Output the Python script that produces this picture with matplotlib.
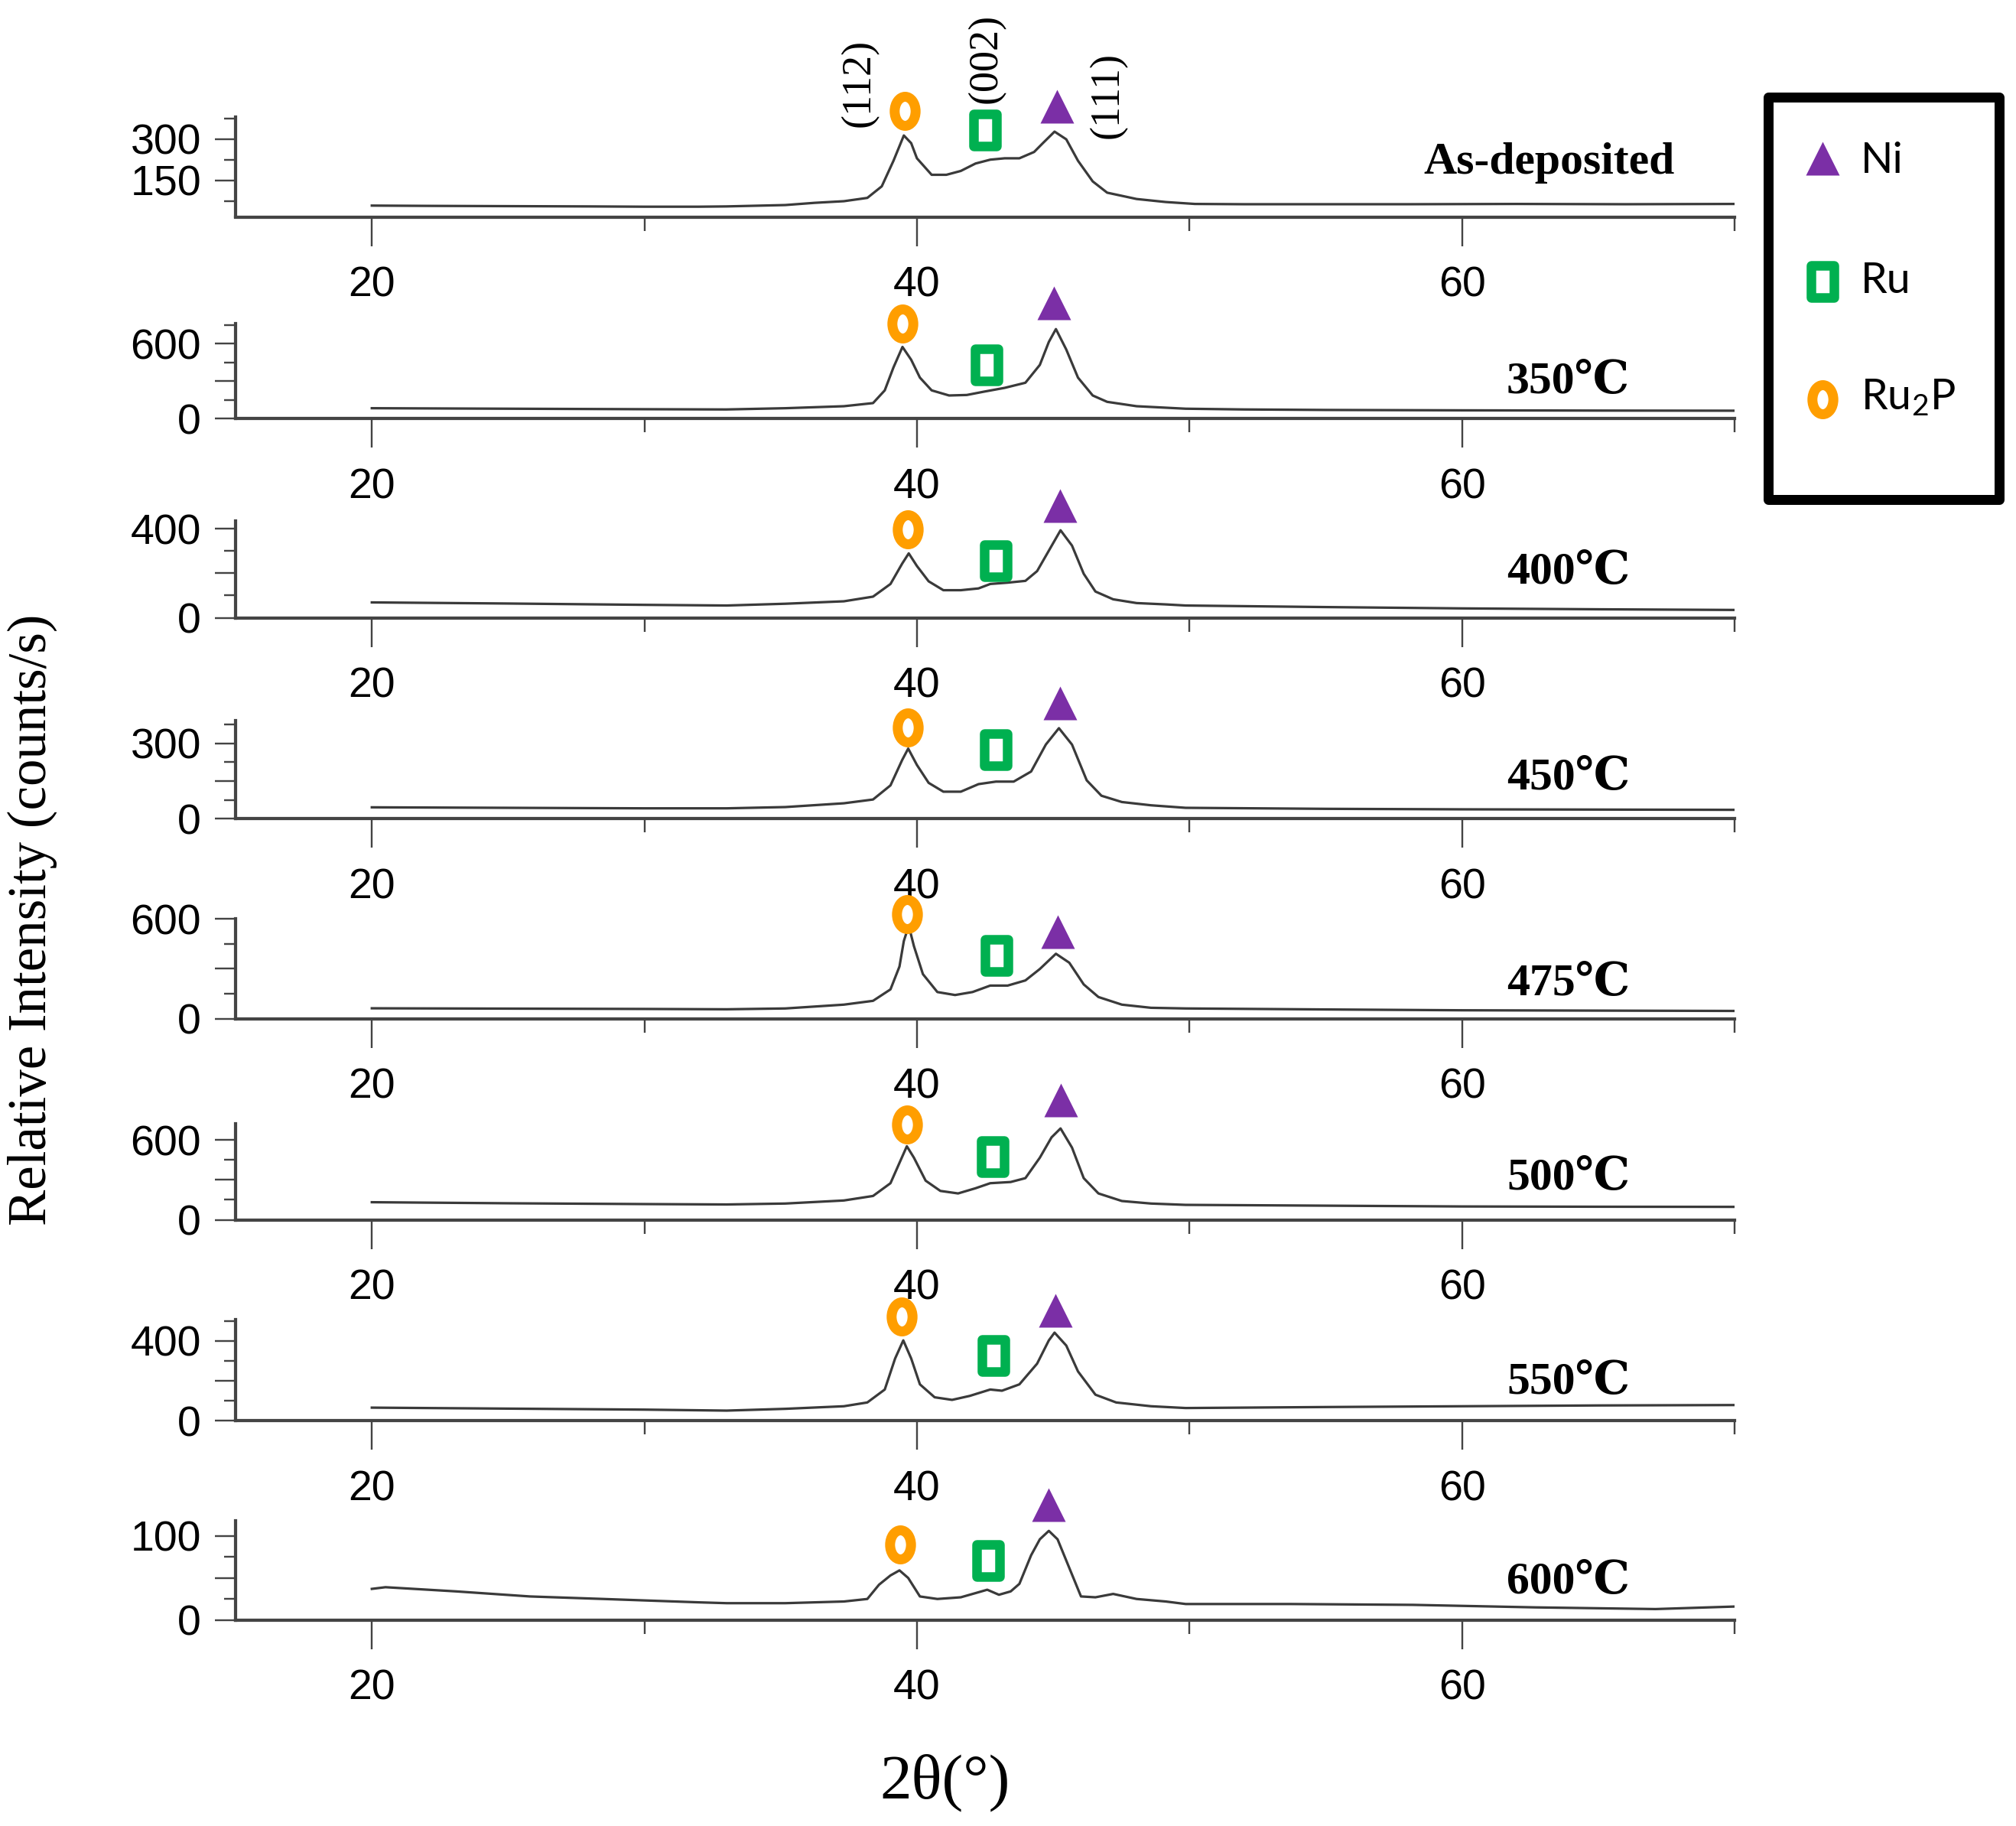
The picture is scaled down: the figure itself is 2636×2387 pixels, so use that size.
"""
XRD patterns of the Ni-Ru-P film, as deposited and after annealing
"""
import matplotlib
matplotlib.use('Agg')
import matplotlib.pyplot as plt
from matplotlib.path import Path
from matplotlib.markers import MarkerStyle
from matplotlib.patches import Rectangle
from matplotlib.ticker import MultipleLocator, FixedLocator, FuncFormatter
from matplotlib.transforms import Affine2D

plt.rcParams['font.family'] = ['Liberation Sans', 'DejaVu Sans']
plt.rcParams['mathtext.fontset'] = 'custom'
plt.rcParams['mathtext.rm'] = 'Lato'
plt.rcParams['mathtext.it'] = 'Lato:italic'
plt.rcParams['mathtext.bf'] = 'Lato:bold'
SERIF = ['Liberation Serif', 'DejaVu Serif', 'DejaVu Sans']

# ---- data (2theta in degrees, counts/s) ----
samples = ['As-deposited', '350℃', '400℃', '450℃', '475℃', '500℃', '550℃', '600℃']

x_asdep = [20, 22, 25, 28, 30, 32, 33.0, 35.17, 36.24, 37.32, 38.18, 38.71, 39.14, 39.52, 39.79, 40.00,
           40.54, 41.08, 41.61, 42.15, 42.69, 43.22, 43.76, 44.30, 44.62, 45.05, 45.48, 45.91, 46.45,
           46.98, 48.06, 49.13, 50.2, 52, 55, 58, 62, 66, 70]
y_asdep = [58, 57, 56, 55, 54, 54, 55, 60, 68, 74, 86, 128, 221, 313, 285, 230,
           170, 170, 184, 211, 225, 230, 230, 253, 285, 327, 299, 221, 146,
           105, 82, 71, 64, 63, 63, 63, 64, 63, 64]

x_350 = [20, 25, 30, 33.0, 35.17, 37.32, 38.39, 38.82, 39.14, 39.47, 39.79, 40.11, 40.54, 41.18, 41.83,
         42.47, 43.22, 43.98, 44.51, 44.84, 45.10, 45.48, 45.91, 46.45, 46.98, 48.06, 49.86,
         52, 55, 60, 65, 70]
y_350 = [82, 78, 74, 72, 82, 98, 123, 225, 409, 573, 470, 327, 225, 184, 188,
         215, 245, 286, 429, 613, 716, 552, 327, 184, 133, 98, 78,
         72, 68, 65, 63, 62]

x_400 = [20, 25, 30, 33.02, 35.17, 37.32, 38.39, 39.03, 39.46, 39.70, 40.00, 40.43, 40.97, 41.61, 42.26,
         42.69, 43.33, 43.98, 44.41, 44.84, 45.27, 45.69, 46.12, 46.55, 47.20, 48.06, 49.13, 49.86,
         55, 60, 65, 70]
y_400 = [69, 64, 58, 55, 63, 74, 95, 152, 244, 290, 233, 164, 124, 124, 132,
         152, 158, 166, 210, 302, 394, 325, 198, 118, 83, 66, 60, 55,
         48, 42, 38, 35]

x_450 = [20, 25, 30, 33.02, 35.17, 37.32, 38.39, 39.03, 39.46, 39.68, 40.00, 40.43, 40.97, 41.61, 42.26,
         42.90, 43.55, 44.19, 44.73, 45.21, 45.69, 46.23, 46.77, 47.52, 48.59, 49.86,
         55, 60, 65, 70]
y_450 = [46, 44, 42, 42, 47, 62, 77, 133, 234, 279, 214, 143, 108, 108, 138,
         148, 148, 188, 295, 360, 295, 153, 92, 67, 54, 44,
         40, 38, 37, 36]

x_475 = [20, 25, 30, 33.02, 35.17, 37.32, 38.39, 39.03, 39.36, 39.52, 39.70, 39.89, 40.22, 40.75, 41.40,
         42.04, 42.69, 43.33, 43.98, 44.51, 45.10, 45.59, 46.12, 46.66, 47.52, 48.59, 49.86,
         55, 60, 65, 70]
y_475 = [62, 60, 58, 56, 61, 84, 107, 176, 314, 468, 560, 437, 268, 160, 142,
         160, 199, 199, 230, 299, 391, 337, 206, 130, 84, 65, 61,
         55, 50, 48, 46]

x_500 = [20, 25, 30, 33.02, 35.17, 37.32, 38.39, 39.03, 39.36, 39.63, 39.89, 40.32, 40.86, 41.51, 42.15,
         42.69, 43.44, 43.98, 44.51, 44.94, 45.27, 45.69, 46.12, 46.66, 47.52, 48.59, 49.86,
         55, 60, 65, 70]
y_500 = [132, 124, 118, 115, 122, 145, 179, 275, 428, 553, 467, 294, 217, 198, 237,
         275, 284, 313, 467, 620, 687, 543, 313, 198, 141, 122, 112,
         106, 100, 98, 97]

x_550 = [20, 25, 30, 33.02, 35.17, 37.32, 38.18, 38.82, 39.20, 39.50, 39.79, 40.11, 40.65, 41.29, 41.94,
         42.69, 43.12, 43.76, 44.41, 44.84, 45.05, 45.48, 45.91, 46.55, 47.31, 48.59, 49.86,
         55, 60, 65, 70]
y_550 = [65, 60, 55, 50, 59, 72, 91, 156, 312, 403, 312, 182, 117, 104, 124,
         156, 150, 182, 286, 403, 442, 377, 247, 130, 91, 72, 63,
         68, 72, 76, 78]

x_600 = [20.0, 20.5, 23.1, 25.8, 28.5, 32.0, 33.02, 35.17, 37.32, 38.18, 38.61, 39.03, 39.36, 39.68,
         40.11, 40.75, 41.61, 42.26, 42.58, 43.01, 43.44, 43.76, 44.19, 44.51, 44.84, 45.16, 45.59,
         46.02, 46.55, 47.20, 48.06, 49.13, 49.86, 53.7, 58.2, 62.7, 67.1, 70]
y_600 = [37, 39, 34, 28, 25, 21, 20, 20, 22, 25, 42, 53, 59, 50,
         28, 25, 27, 33, 36, 30, 34, 43, 77, 96, 106, 96, 62,
         28, 27, 31, 25, 22, 19, 19, 18, 15, 13, 16]

curves_x = [x_asdep, x_350, x_400, x_450, x_475, x_500, x_550, x_600]
curves_y = [y_asdep, y_350, y_400, y_450, y_475, y_500, y_550, y_600]

# phase markers above the peaks, one per pattern
ru2p_x = [39.56, 39.47, 39.66, 39.66, 39.65, 39.63, 39.45, 39.38]
ru2p_y = [401, 759, 397, 363, 630, 717, 523, 90]
ru_x = [42.50, 42.55, 42.88, 42.88, 42.92, 42.77, 42.82, 42.60]
ru_y = [334, 431, 256, 274, 380, 476, 325, 71]
ni_x = [45.15, 45.02, 45.25, 45.25, 45.16, 45.29, 45.07, 44.84]
ni_y = [418, 926, 505, 461, 524, 901, 553, 137]

# Miller indices on the as-deposited pattern
hkl_text = ['(112)', '(002)', '(111)']
hkl_x = [37.9, 42.54, 47.0]
hkl_y = [504, 593, 460]

# ---- layout (pixels of the 2636 x 2387 canvas) ----
W, H, DPI = 2636, 2387, 200
left_px, right_px = 308, 2268
axis_px = [283.5, 547, 807.5, 1070.5, 1331.5, 1594.5, 1857, 2117.7]
top_px = [153, 423, 681, 942, 1200.6, 1468.7, 1725.4, 1988]
ylims = [(17, 380), (0, 760), (0, 436), (0, 390), (0, 604), (0, 724), (0, 506), (0, 118)]
y_step = [150, 300, 200, 150, 300, 300, 200, 50]
y_shown = [(150, 300), (0, 600), (0, 400), (0, 300), (0, 600), (0, 600), (0, 400), (0, 100)]
name_off_px = [56.5, 33, 44.5, 38.5, 30.5, 39.5, 35, 35]
name_x = [63.2, 63.9, 63.9, 63.9, 63.9, 63.9, 63.9, 63.9]

px = 72 / DPI  # one canvas pixel in points
INK = '#3a3a3a'
ORANGE, GREEN, PURPLE = '#FF9E00', '#00B050', '#7B2FA6'

ellipse = MarkerStyle(Path.unit_circle().transformed(Affine2D().scale(0.72, 1.0)))
rect = MarkerStyle(Path([(-0.35, -0.5), (0.35, -0.5), (0.35, 0.5), (-0.35, 0.5), (-0.35, -0.5)],
                        closed=True), joinstyle='round')
ru2p_style = dict(marker=ellipse, ms=38 * px, mfc='none', mec=ORANGE, mew=13 * px, ls='none')
ru_style = dict(marker=rect, ms=43 * px, mfc='none', mec=GREEN, mew=12.5 * px, ls='none')
ni_style = dict(marker='^', ms=44 * px, mfc=PURPLE, mec='none', ls='none')

fig = plt.figure(figsize=(W / DPI, H / DPI), dpi=DPI)

for i in range(len(samples)):
    ax = fig.add_axes([left_px / W, 1 - axis_px[i] / H,
                       (right_px - left_px) / W, (axis_px[i] - top_px[i]) / H])
    ax.plot(curves_x[i], curves_y[i], color=INK, lw=3.2 * px, solid_joinstyle='round')

    for mx, my, st in ((ru2p_x, ru2p_y, ru2p_style), (ru_x, ru_y, ru_style), (ni_x, ni_y, ni_style)):
        ax.plot(mx[i], my[i], clip_on=False, zorder=5, **st)

    ax.set_xlim(15, 70)
    ax.set_ylim(*ylims[i])
    for s in ('top', 'right'):
        ax.spines[s].set_visible(False)
    for s in ('left', 'bottom'):
        ax.spines[s].set_linewidth(4.2 * px)
        ax.spines[s].set_color('#444444')

    ax.xaxis.set_major_locator(FixedLocator([20, 40, 60]))
    ax.xaxis.set_minor_locator(FixedLocator([30, 50, 70]))
    ax.tick_params(axis='x', which='major', length=38 * px, width=2.4 * px, pad=26 * px,
                   labelsize=20, color='#444444')
    ax.tick_params(axis='x', which='minor', length=18 * px, width=2.4 * px, color='#444444')

    step = y_step[i]
    labs = y_shown[i]
    ax.yaxis.set_major_locator(MultipleLocator(step))
    ax.yaxis.set_minor_locator(MultipleLocator(step / 2))
    ax.yaxis.set_major_formatter(FuncFormatter(
        lambda v, p, labs=labs: f'{v:g}' if any(abs(v - l) < 1e-6 for l in labs) else ''))
    ax.tick_params(axis='y', which='major', length=27 * px, width=2.4 * px, pad=18 * px,
                   labelsize=20, color='#444444')
    ax.tick_params(axis='y', which='minor', length=15 * px, width=2.4 * px, color='#444444')
    ax.patch.set_alpha(0)

    ax.annotate(samples[i], xy=(name_x[i], 0), xycoords=('data', 'axes fraction'),
                xytext=(0, name_off_px[i] * px), textcoords='offset points',
                ha='center', va='baseline', fontsize=21.5, fontweight='bold', family=SERIF)

    if i == 0:
        for t, hx, hy in zip(hkl_text, hkl_x, hkl_y):
            ax.text(hx, hy, t, rotation=90, ha='center', va='center', fontsize=19.5,
                    family=SERIF, clip_on=False)

# axis titles
fig.text(42 / W, 1 - 1202 / H, 'Relative Intensity (counts/s)', rotation=90,
         ha='center', va='center', fontsize=25.5, family=SERIF)
fig.text(1236 / W, 1 - 2331 / H, '2θ(°)', ha='center', va='center', fontsize=30, family=SERIF)

# legend box
lg = fig.add_axes([2311.5 / W, 1 - 652.5 / H, 302 / W, 526 / H])
lg.set_xlim(0, 1)
lg.set_ylim(0, 1)
lg.axis('off')
lg.add_patch(Rectangle((0, 0), 1, 1, transform=lg.transAxes, fill=False, lw=13 * px,
                       ec='black', joinstyle='round', clip_on=False))
legend_items = [('Ni', ni_style, 0.847, 0.811),
                ('Ru', ru_style, 0.541, 0.513),
                ('Ru$_2$P', ru2p_style, 0.248, 0.223)]
for name, st, ym, yb in legend_items:
    lg.plot(0.237, ym, clip_on=False, **st)
    lg.text(0.402, yb, name, ha='left', va='baseline', fontsize=20, family=['Lato', 'DejaVu Sans'])

fig.savefig('out.png', dpi=DPI)
plt.close(fig)
